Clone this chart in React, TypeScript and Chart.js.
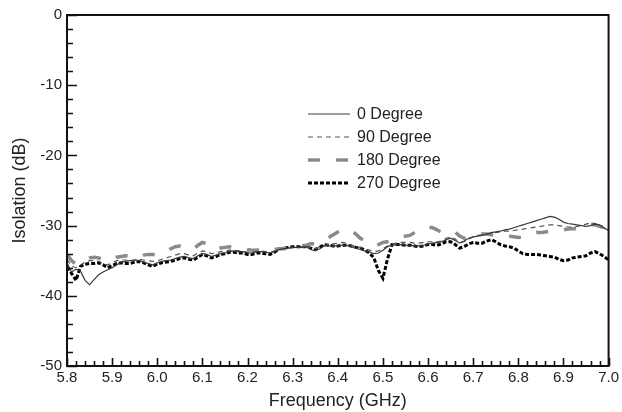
import { useEffect, useRef } from "react";
import { Chart, registerables } from "chart.js";

Chart.register(...registerables);

const frequencyGHz = [
  5.80, 5.81, 5.82, 5.83, 5.84, 5.85, 5.86, 5.87, 5.88, 5.89,
  5.90, 5.91, 5.92, 5.93, 5.94, 5.95, 5.96, 5.97, 5.98, 5.99,
  6.00, 6.01, 6.02, 6.03, 6.04, 6.05, 6.06, 6.07, 6.08, 6.09,
  6.10, 6.11, 6.12, 6.13, 6.14, 6.15, 6.16, 6.17, 6.18, 6.19,
  6.20, 6.21, 6.22, 6.23, 6.24, 6.25, 6.26, 6.27, 6.28, 6.29,
  6.30, 6.31, 6.32, 6.33, 6.34, 6.35, 6.36, 6.37, 6.38, 6.39,
  6.40, 6.41, 6.42, 6.43, 6.44, 6.45, 6.46, 6.47, 6.48, 6.49,
  6.50, 6.51, 6.52, 6.53, 6.54, 6.55, 6.56, 6.57, 6.58, 6.59,
  6.60, 6.61, 6.62, 6.63, 6.64, 6.65, 6.66, 6.67, 6.68, 6.69,
  6.70, 6.71, 6.72, 6.73, 6.74, 6.75, 6.76, 6.77, 6.78, 6.79,
  6.80, 6.81, 6.82, 6.83, 6.84, 6.85, 6.86, 6.87, 6.88, 6.89,
  6.90, 6.91, 6.92, 6.93, 6.94, 6.95, 6.96, 6.97, 6.98, 6.99,
  7.00,
];

const isolation0 = [
  -35.3, -36.6, -36.2, -36.5, -37.8, -38.4, -37.7, -37.0, -36.6, -36.3,
  -36.0, -35.6, -35.2, -35.1, -35.0, -34.9, -35.0, -35.2, -35.4, -35.6,
  -35.3, -35.1, -35.0, -34.9, -34.7, -34.5, -34.4, -34.6, -34.7, -34.3,
  -34.0, -34.1, -34.4, -34.2, -34.0, -33.9, -33.7, -33.6, -33.7, -33.7,
  -33.9, -33.9, -33.7, -33.7, -33.8, -33.9, -33.7, -33.4, -33.3, -33.2,
  -33.1, -33.1, -33.1, -33.0, -33.4, -33.6, -33.3, -32.9, -32.9, -32.9,
  -32.9, -32.8, -32.8, -33.0, -33.2, -33.4, -33.6, -33.8, -34.0, -33.9,
  -33.5, -33.0, -32.8, -32.7, -32.7, -32.8, -32.8, -32.9, -32.9, -32.8,
  -32.6, -32.5, -32.4, -32.3, -32.0, -31.8, -32.1, -32.5, -32.2, -31.8,
  -31.6, -31.5, -31.4, -31.2, -31.0, -30.9, -30.8, -30.6, -30.5, -30.3,
  -30.1, -29.9, -29.7, -29.5, -29.3, -29.1, -28.9, -28.7, -28.8, -29.1,
  -29.5, -29.7, -29.8, -29.9, -30.0, -30.1, -30.0, -29.8, -29.9, -30.3,
  -30.7,
];

const isolation90 = [
  -34.8, -35.8, -36.0, -35.6, -35.2, -35.0, -35.0, -35.1, -35.4, -35.6,
  -35.3, -35.0, -34.9, -34.9, -35.0, -34.9, -34.8, -34.9, -35.0, -35.1,
  -35.0, -34.8, -34.6, -34.4, -34.2, -34.0, -34.0, -34.2, -34.3, -33.9,
  -33.6, -33.7, -34.0, -33.9, -33.7, -33.6, -33.5, -33.5, -33.6, -33.6,
  -33.8, -33.8, -33.7, -33.6, -33.7, -33.8, -33.6, -33.4, -33.3, -33.2,
  -33.1, -33.1, -33.0, -32.9, -33.2, -33.3, -33.0, -32.8, -32.7, -32.6,
  -32.5, -32.4, -32.5, -32.8, -33.0, -33.1, -33.3, -33.5, -33.7, -33.6,
  -33.3, -32.9, -32.6, -32.5, -32.4, -32.4, -32.4, -32.5, -32.5, -32.4,
  -32.3, -32.3, -32.3, -32.2, -31.8, -31.6, -31.9, -32.4, -32.3, -31.9,
  -31.6, -31.4, -31.3, -31.2, -31.1, -31.0, -30.9, -30.8, -30.8, -30.7,
  -30.6, -30.5, -30.4, -30.3, -30.2, -30.1, -30.0, -29.9, -29.9, -30.0,
  -30.1, -30.2, -30.2, -30.1, -30.0, -29.8, -29.6, -29.7, -30.0, -30.4,
  -30.8,
];

const isolation180 = [
  -34.1, -35.0, -35.5, -35.3, -34.9, -34.6, -34.5, -34.6, -34.9, -35.0,
  -34.8, -34.5, -34.4, -34.3, -34.4, -34.6, -34.5, -34.2, -34.1, -34.1,
  -34.2, -34.0, -33.7, -33.3, -33.0, -32.9, -33.0, -33.3, -33.4, -32.8,
  -32.4, -32.6, -33.2, -33.4, -33.2, -33.1, -33.0, -33.1, -33.2, -33.2,
  -33.4, -33.5, -33.5, -33.4, -33.4, -33.5, -33.4, -33.3, -33.3, -33.2,
  -33.2, -33.1, -32.9, -32.8, -32.6, -32.6, -32.4, -32.0, -31.7, -31.3,
  -30.9, -30.6, -30.5, -30.7, -31.2, -31.8, -32.2, -32.6, -32.9, -32.7,
  -32.4, -32.3, -32.2, -32.0, -31.7, -31.5, -31.4, -31.0, -30.6, -30.3,
  -30.2, -30.3, -30.6, -31.0, -31.0, -30.8, -30.9, -31.5, -31.8, -31.7,
  -31.5, -31.4, -31.2, -31.2, -31.3, -31.4, -31.5, -31.5, -31.5, -31.6,
  -31.7, -31.6, -31.4, -31.2, -31.0, -31.0, -30.9, -30.8, -30.7, -30.7,
  -30.6, -30.5, -30.4, -30.5, -30.3, -30.0, -29.8, -29.9, -30.1, -30.3,
  -30.5,
];

const isolation270 = [
  -35.9, -36.8, -37.8, -35.8, -35.5, -35.4, -35.4, -35.3, -35.6, -36.0,
  -35.7, -35.4, -35.3, -35.4, -35.4, -35.2, -35.1, -35.3, -35.6, -35.8,
  -35.5, -35.3, -35.2, -35.1, -34.9, -34.7, -34.6, -34.8, -34.9, -34.5,
  -34.1, -34.3, -34.6, -34.4, -34.1, -34.0, -33.8, -33.8, -33.9, -33.9,
  -34.1, -34.1, -33.9, -33.9, -34.0, -34.1, -33.8, -33.3, -33.2, -33.1,
  -33.0, -33.0, -33.0, -33.0, -33.2, -33.4, -33.1, -32.7, -32.8, -32.9,
  -32.9, -32.8, -32.8, -32.9, -33.1, -33.2, -33.5, -33.9, -34.6, -36.4,
  -37.5, -34.8, -32.7, -32.7, -32.7, -32.8, -32.8, -32.9, -33.0, -32.9,
  -32.7, -32.7, -32.8, -32.6, -32.3, -32.3, -32.7, -33.2, -33.0, -32.6,
  -32.4, -32.5, -32.5, -32.2, -32.0, -32.3, -32.7, -32.9, -33.0, -33.2,
  -33.6, -34.0, -34.1, -34.1, -34.1, -34.2, -34.3, -34.4, -34.5, -34.8,
  -35.0, -34.9, -34.6, -34.5, -34.4, -34.3, -33.9, -33.7, -34.0, -34.4,
  -34.9,
];

const seriesNames = ["0 Degree", "90 Degree", "180 Degree", "270 Degree"];
const seriesValues = [isolation0, isolation90, isolation180, isolation270];

const xMin = 5.8;
const xMax = 7.0;
const yMin = -50;
const yMax = 0;

const FONT = "'Liberation Sans', Arial, sans-serif";

const styles = [
  { color: "#3a3a3a", width: 1.2, dash: [] as number[] },
  { color: "#555555", width: 1.2, dash: [5, 4] },
  { color: "#8a8a8a", width: 3.5, dash: [12, 16] },
  { color: "#000000", width: 3, dash: [4, 2] },
];

const decorPlugin = {
  id: "decor",
  afterDatasetsDraw(chart: any) {
    const { ctx, chartArea: a, scales } = chart;
    const x = scales.x;
    const y = scales.y;
    ctx.save();
    ctx.strokeStyle = "#111";
    ctx.lineWidth = 1.6;
    ctx.beginPath();
    for (let i = 0; i <= 25; i++) {
      const v = yMin + i * 2;
      const py = Math.round(y.getPixelForValue(v)) + 0.5;
      const len = i % 5 === 0 ? 10 : 6;
      ctx.moveTo(a.left, py);
      ctx.lineTo(a.left + len, py);
    }
    for (let i = 0; i <= 60; i++) {
      const v = xMin + i * 0.02;
      const px = Math.round(x.getPixelForValue(v)) + 0.5;
      const len = i % 5 === 0 ? 8 : 5;
      ctx.moveTo(px, a.bottom);
      ctx.lineTo(px, a.bottom - len);
    }
    ctx.stroke();
    ctx.lineWidth = 2;
    ctx.strokeRect(a.left, a.top, a.right - a.left, a.bottom - a.top);

    const lx0 = 308;
    const lx1 = 350;
    const tx = 357;
    const ys = [114, 137, 160, 183];
    ctx.font = `16px ${FONT}`;
    ctx.textBaseline = "middle";
    ctx.textAlign = "left";
    chart.data.datasets.forEach((ds: any, i: number) => {
      ctx.save();
      ctx.strokeStyle = ds.borderColor;
      ctx.lineWidth = ds.borderWidth;
      ctx.setLineDash(ds.borderDash || []);
      ctx.beginPath();
      ctx.moveTo(lx0, ys[i]);
      ctx.lineTo(lx1, ys[i]);
      ctx.stroke();
      ctx.restore();
      ctx.fillStyle = "#222";
      ctx.fillText(ds.label, tx, ys[i] + 1);
    });
    ctx.restore();
  },
};

export default function App() {
  const canvasRef = useRef<HTMLCanvasElement | null>(null);

  useEffect(() => {
    if (!canvasRef.current) return;
    const datasets = seriesNames.map((name, si) => ({
      label: name,
      data: frequencyGHz.map((f, i) => ({ x: f, y: seriesValues[si][i] })),
      borderColor: styles[si].color,
      borderWidth: styles[si].width,
      borderDash: styles[si].dash,
      pointRadius: 0,
      fill: false,
      tension: 0,
    }));
    const chart = new Chart(canvasRef.current, {
      type: "line",
      data: { datasets },
      options: {
        animation: false,
        responsive: false,
        layout: { padding: { top: 15, right: 13, left: 0, bottom: 0 } },
        plugins: { legend: { display: false }, tooltip: { enabled: false } },
        scales: {
          x: {
            type: "linear",
            min: xMin,
            max: xMax,
            grid: { display: false, drawTicks: false },
            border: { display: false },
            ticks: {
              stepSize: 0.1,
              padding: 3,
              color: "#222",
              font: { family: FONT, size: 15 },
              callback: (v: any) => Number(v).toFixed(1),
            },
            title: {
              display: true,
              text: "Frequency (GHz)",
              color: "#222",
              font: { family: FONT, size: 18 },
              padding: { top: 0, bottom: 0 },
            },
            afterFit: (s: any) => {
              s.height = 46;
            },
          },
          y: {
            type: "linear",
            min: yMin,
            max: yMax,
            grid: { display: false, drawTicks: false },
            border: { display: false },
            ticks: {
              stepSize: 10,
              padding: 5,
              color: "#222",
              font: { family: FONT, size: 15 },
            },
            title: {
              display: true,
              text: "Isolation (dB)",
              color: "#222",
              font: { family: FONT, size: 18 },
              padding: { top: 9, bottom: 0 },
            },
            afterFit: (s: any) => {
              s.width = 67;
            },
          },
        },
      },
      plugins: [decorPlugin],
    });
    return () => chart.destroy();
  }, []);

  return (
    <div style={{ position: "absolute", left: 0, top: 0, width: 622, height: 412, background: "#fff" }}>
      <canvas ref={canvasRef} width={622} height={412} />
    </div>
  );
}
